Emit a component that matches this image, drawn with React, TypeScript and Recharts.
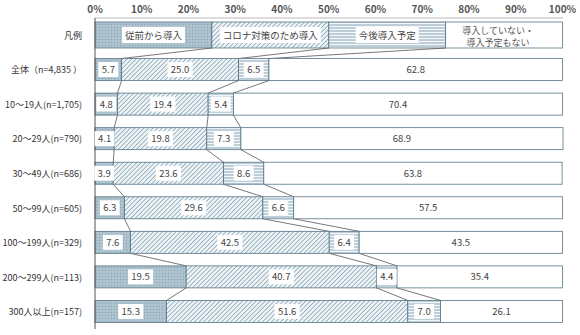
import { BarChart, Bar, XAxis, YAxis, LabelList } from "recharts"

const categories = [
  "凡例",
  "全体（n=4,835 ）",
  "10～19人(n=1,705)",
  "20～29人(n=790)",
  "30～49人(n=686)",
  "50～99人(n=605)",
  "100～199人(n=329)",
  "200～299人(n=113)",
  "300人以上(n=157)",
]
const seriesNames = ["従前から導入", "コロナ対策のため導入", "今後導入予定", "導入していない・導入予定もない"]
const legendLines = [["従前から導入"], ["コロナ対策のため導入"], ["今後導入予定"], ["導入していない・", "導入予定もない"]]

// first entry of each list is the legend row (25% each)
const before = [25, 5.7, 4.8, 4.1, 3.9, 6.3, 7.6, 19.5, 15.3]
const corona = [25, 25.0, 19.4, 19.8, 23.6, 29.6, 42.5, 40.7, 51.6]
const planned = [25, 6.5, 5.4, 7.3, 8.6, 6.6, 6.4, 4.4, 7.0]
const none = [25, 62.8, 70.4, 68.9, 63.8, 57.5, 43.5, 35.4, 26.1]
const xTicks = [0, 10, 20, 30, 40, 50, 60, 70, 80, 90, 100]

const series = [before, corona, planned, none]
const keys = ["s0", "s1", "s2", "s3"]
const fills = ["url(#pBefore)", "url(#pCorona)", "url(#pPlanned)", "#ffffff"]

const rows = categories.map((name, i) => ({
  name,
  s0: before[i],
  s1: corona[i],
  s2: planned[i],
  s3: none[i],
}))

const W = 580
const H = 335
const MARGIN = { top: 0, right: 17, bottom: 6, left: 0 }
const X_AXIS_H = 18
const STEP = (H - MARGIN.top - MARGIN.bottom - X_AXIS_H) / rows.length
const FONT = '"Noto Sans CJK JP", "Noto Sans", sans-serif'

const cum = (k: number, i: number) => {
  let s = 0
  for (let j = 0; j <= k; j++) s += series[j][i]
  return s
}

const makeShape = (k: number) => (props: any) => {
  const { x, y, width, height, index } = props
  const legend = index === 0
  const yy = legend ? y - 2 : y
  const hh = legend ? height + 4 : height
  let line = null
  if (k < 3 && index < rows.length - 1) {
    const ppu = width / series[k][index]
    const x1 = x + width
    const x2 = x1 + (cum(k, index + 1) - cum(k, index)) * ppu
    line = <line x1={x1} y1={yy + hh} x2={x2} y2={y + STEP} stroke="#555" strokeWidth={0.8} />
  }
  return (
    <g>
      <rect x={x} y={yy} width={width} height={hh} fill={fills[k]} stroke="#557585" strokeWidth={0.8} />
      {line}
    </g>
  )
}

const makeLabel = (k: number) => (props: any) => {
  const { x, y, width, height, index } = props
  const cx = x + width / 2
  const cy = y + height / 2
  if (index === 0) {
    const lines = legendLines[k]
    if (lines.length > 1) {
      return (
        <g>
          {lines.map((t, j) => (
            <text key={j} x={cx - 6} y={cy + (j - 0.5) * 12 + 4.5} textAnchor="middle" fontSize={9} fill="#555" fontFamily={FONT}>
              {t}
            </text>
          ))}
        </g>
      )
    }
    const tw = lines[0].length * 9.5 + 6
    return (
      <g>
        <rect x={cx - tw / 2} y={cy - 8} width={tw} height={16} fill="#fff" />
        <text x={cx} y={cy + 3.5} textAnchor="middle" fontSize={9.5} fill="#444" fontFamily={FONT}>
          {lines[0]}
        </text>
      </g>
    )
  }
  const txt = series[k][index].toFixed(1)
  const tw = txt.length * 5.3 + 4
  return (
    <g>
      {k < 3 && <rect x={cx - tw / 2} y={cy - 7.5} width={tw} height={15} fill="#fff" />}
      <text x={cx} y={cy + 3.5} textAnchor="middle" fontSize={9.5} fill="#444" fontFamily={FONT}>
        {txt}
      </text>
    </g>
  )
}

const CategoryTick = (props: any) => {
  const { x, y, payload } = props
  return (
    <text x={x} y={y + 3.5} textAnchor="end" fontSize={9} fill="#333" fontFamily={FONT}>
      {payload.value}
    </text>
  )
}

export default function App() {
  return (
    <div style={{ position: "absolute", left: 0, top: 0, background: "#fff" }}>
      <BarChart layout="vertical" width={W} height={H} data={rows} margin={MARGIN} barSize={22}>
        <defs>
          <pattern id="pBefore" width="3" height="3" patternUnits="userSpaceOnUse">
            <rect width="3" height="3" fill="#a9c0cc" />
            <rect width="1" height="1" fill="#8ea8b7" />
            <rect x="1.5" y="1.5" width="1" height="1" fill="#c4d4dd" />
          </pattern>
          <pattern id="pCorona" width="3.2" height="3.2" patternUnits="userSpaceOnUse" patternTransform="rotate(45)">
            <rect width="3.2" height="3.2" fill="#eef3f6" />
            <line x1="0" y1="0" x2="0" y2="3.2" stroke="#7e9db0" strokeWidth="1.4" />
          </pattern>
          <pattern id="pPlanned" width="4" height="3" patternUnits="userSpaceOnUse">
            <rect width="4" height="3" fill="#f3f7f9" />
            <line x1="0" y1="1" x2="4" y2="1" stroke="#9ab4c2" strokeWidth="1.2" />
          </pattern>
        </defs>
        <XAxis
          type="number"
          orientation="top"
          domain={[0, 100]}
          ticks={xTicks}
          tickFormatter={(v) => `${v}%`}
          height={X_AXIS_H}
          axisLine={{ stroke: "#bbb" }}
          tickLine={false}
          tickSize={0}
          tickMargin={5}
          tick={{ fontSize: 10, fill: "#555", fontFamily: FONT, fontWeight: 600 }}
        />
        <YAxis
          type="category"
          dataKey="name"
          width={95}
          axisLine={{ stroke: "#555" }}
          tickLine={false}
          tickSize={0}
          tickMargin={13}
          interval={0}
          tick={<CategoryTick />}
        />
        {keys.map((key, k) => (
          <Bar
            key={key}
            dataKey={key}
            name={seriesNames[k]}
            stackId="a"
            isAnimationActive={false}
            shape={makeShape(k)}
          >
            <LabelList dataKey={key} content={makeLabel(k)} />
          </Bar>
        ))}
      </BarChart>
    </div>
  )
}
